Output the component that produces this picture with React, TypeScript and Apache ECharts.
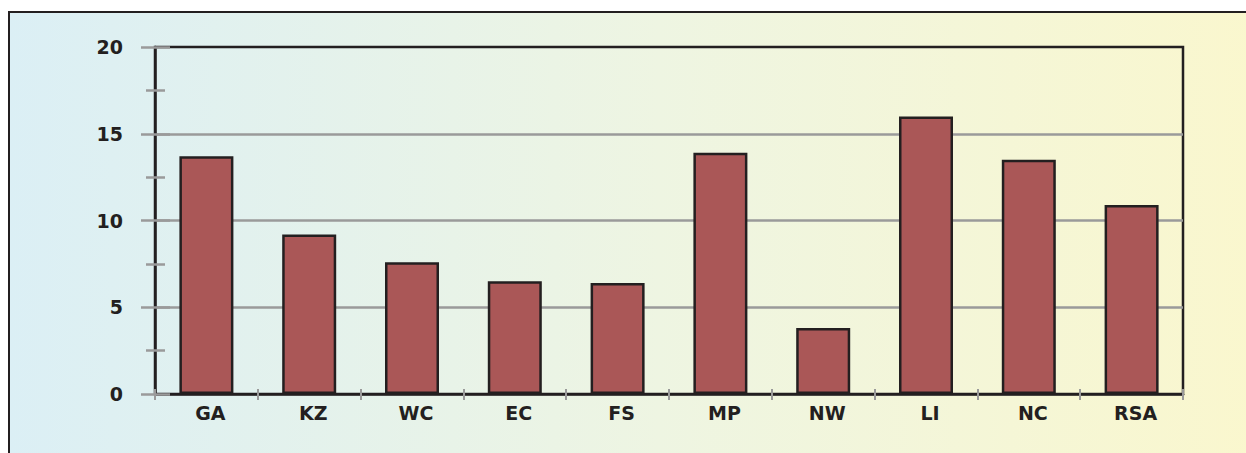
import React, { useEffect, useRef } from "react";
import * as echarts from "echarts";

const categories = ["GA", "KZ", "WC", "EC", "FS", "MP", "NW", "LI", "NC", "RSA"];
const values = [13.7, 9.2, 7.6, 6.5, 6.4, 13.9, 3.8, 16.0, 13.5, 10.9];
const yMin = 0;
const yMax = 20;
const yInterval = 5;

const GRAY = "#9a9a9a";
const DARK = "#231f20";
const BAR = "#aa5757";
const FONT = "DejaVu Sans";

export default function App() {
  const ref = useRef<HTMLDivElement>(null);
  useEffect(() => {
    if (!ref.current) return;
    const chart = echarts.init(ref.current, undefined, { renderer: "svg" });
    const yBase = {
      type: "value" as const,
      min: yMin,
      max: yMax,
      interval: yInterval,
      position: "left" as const,
      offset: 0,
    };
    chart.setOption({
      animation: false,
      graphic: [
        {
          type: "rect",
          z: -100,
          shape: { x: 9, y: 12, width: 1300, height: 500 },
          style: {
            fill: new echarts.graphic.LinearGradient(0, 0, 1, 0, [
              { offset: 0, color: "#dbeff5" },
              { offset: 0.5, color: "#eef5e2" },
              { offset: 1, color: "#fbf7cc" },
            ]),
            stroke: DARK,
            lineWidth: 2,
          },
        },
      ],
      grid: {
        left: 155,
        top: 47,
        right: 63,
        bottom: 59,
        show: true,
        borderColor: DARK,
        borderWidth: 2.5,
        backgroundColor: "rgba(0,0,0,0)",
        containLabel: false,
      },
      xAxis: [
        {
          type: "category",
          data: categories,
          position: "bottom",
          axisLine: { show: true, lineStyle: { color: DARK, width: 2.5 } },
          axisTick: { show: true, length: 6, lineStyle: { color: GRAY, width: 2 } },
          axisLabel: {
            margin: 9,
            padding: [0, 0, 0, 8],
            color: DARK,
            fontFamily: FONT,
            fontWeight: "bold",
            fontSize: 19,
          },
          splitLine: { show: false },
        },
        {
          type: "category",
          data: categories,
          position: "bottom",
          offset: 0,
          axisLine: { show: false },
          axisTick: { show: true, inside: true, length: 5, lineStyle: { color: GRAY, width: 2 } },
          axisLabel: { show: false },
          splitLine: { show: false },
        },
      ],
      yAxis: [
        {
          ...yBase,
          axisLine: { show: true, lineStyle: { color: DARK, width: 2.5 } },
          axisTick: { show: true, length: 14, lineStyle: { color: GRAY, width: 2.5 } },
          minorTick: { show: true, splitNumber: 2, length: 9, lineStyle: { color: GRAY, width: 2.5 } },
          axisLabel: {
            margin: 32,
            color: DARK,
            fontFamily: FONT,
            fontWeight: "bold",
            fontSize: 19,
          },
          splitLine: {
            show: true,
            lineStyle: {
              color: ["rgba(0,0,0,0)", GRAY, GRAY, GRAY, "rgba(0,0,0,0)"],
              width: 2.5,
            },
          },
        },
        {
          ...yBase,
          axisLine: { show: false },
          axisTick: { show: true, inside: true, length: 15, lineStyle: { color: GRAY, width: 2.5 } },
          minorTick: { show: true, splitNumber: 2, length: 10, lineStyle: { color: GRAY, width: 2.5 } },
          axisLabel: { show: false },
          splitLine: { show: false },
        },
      ],
      series: [
        {
          type: "bar",
          xAxisIndex: 0,
          yAxisIndex: 0,
          data: values,
          barWidth: 54,
          itemStyle: { color: BAR, borderColor: DARK, borderWidth: 2.5 },
        },
      ],
    });
    return () => chart.dispose();
  }, []);
  return (
    <div
      ref={ref}
      style={{ position: "absolute", left: 0, top: 0, width: 1246, height: 453 }}
    />
  );
}
